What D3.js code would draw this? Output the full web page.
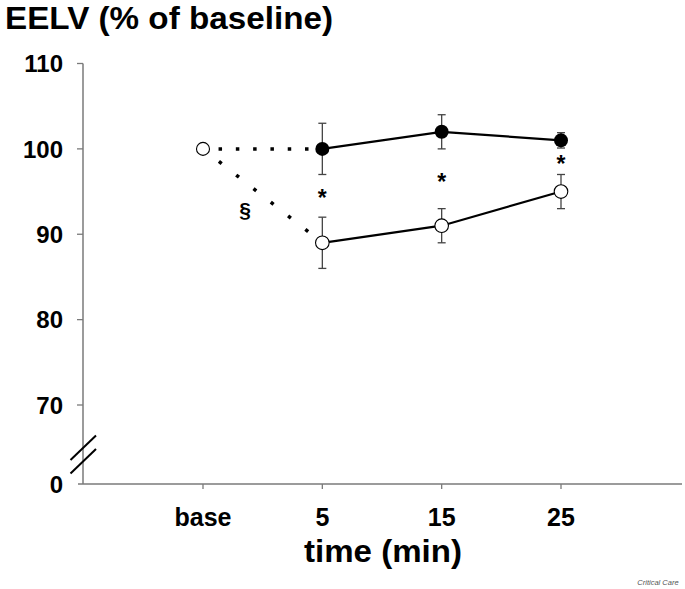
<!DOCTYPE html>
<html><head><meta charset="utf-8">
<script src="https://cdn.jsdelivr.net/npm/d3@7"></script>
<style>body{margin:0;background:#fff}svg{display:block}text{font-family:"Liberation Sans",Arial,Helvetica,sans-serif}</style>
</head><body><div id="chart"></div>
<script>
const categories = ["base", "5", "15", "25"];
const yTicks = [70, 80, 90, 100, 110];
// filled circles (starts at 5 min, linked to base by dotted line)
const filledCats = ["5", "15", "25"];
const filledMean = [100, 102, 101];
const filledErr = [3, 2, 0.9];
// open circles
const openCats = ["5", "15", "25"];
const openMean = [89, 91, 95];
const openErr = [3, 2, 2];
const baseValue = 100;
// significance markers
const starCats = ["5", "15", "25"];
const starVals = [95.2, 97.1, 99.2];

const W = 685, H = 589;
const svg = d3.select("#chart").append("svg").attr("width", W).attr("height", H);

const xPos = d3.scaleLinear().domain([0, 3]).range([203, 561]);
const X = c => xPos(categories.indexOf(c));
const y = d3.scaleLinear().domain([70, 110]).range([405, 63.5]);
const yZero = 484;
const axisColor = "#7a7a7a";

// axes lines
svg.append("line").attr("x1", 83).attr("x2", 83).attr("y1", y(110)).attr("y2", yZero)
  .attr("stroke", axisColor).attr("stroke-width", 1.5);
svg.append("line").attr("x1", 78).attr("x2", 682).attr("y1", yZero).attr("y2", yZero)
  .attr("stroke", axisColor).attr("stroke-width", 1.5);

// y ticks
const yt = svg.append("g");
yTicks.forEach(v => {
  yt.append("line").attr("x1", 77).attr("x2", 83).attr("y1", y(v)).attr("y2", y(v)).attr("stroke", axisColor).attr("stroke-width", 1.3);
  yt.append("text").attr("x", 63).attr("y", y(v)).attr("dy", "0.36em").attr("text-anchor", "end")
    .attr("font-size", 24).attr("font-weight", "bold").text(v);
});
yt.append("text").attr("x", 63).attr("y", yZero).attr("dy", "0.36em").attr("text-anchor", "end")
  .attr("font-size", 24).attr("font-weight", "bold").text("0");

// axis break
[[460, 435.5], [473.5, 449]].forEach(([a, b]) => {
  svg.append("line").attr("x1", 70.5).attr("y1", a).attr("x2", 96).attr("y2", b)
    .attr("stroke", "#000").attr("stroke-width", 2);
});

// x ticks
categories.forEach(c => {
  svg.append("line").attr("x1", X(c)).attr("x2", X(c)).attr("y1", yZero).attr("y2", yZero + 5)
    .attr("stroke", axisColor).attr("stroke-width", 1.3);
  svg.append("text").attr("x", X(c)).attr("y", 526).attr("text-anchor", "middle")
    .attr("font-size", 25).attr("font-weight", "bold").text(c);
});

// titles
svg.append("text").attr("x", 5).attr("y", 29).attr("font-size", 31).attr("font-weight", "bold")
  .attr("textLength", 328).attr("lengthAdjust", "spacingAndGlyphs").text("EELV (% of baseline)");
svg.append("text").attr("x", 383).attr("y", 562).attr("text-anchor", "middle").attr("font-size", 32)
  .attr("font-weight", "bold").attr("textLength", 158).attr("lengthAdjust", "spacingAndGlyphs").text("time (min)");
svg.append("text").attr("x", 658).attr("y", 585).attr("text-anchor", "middle").attr("font-size", 7.5)
  .attr("font-style", "italic").attr("fill", "#555").text("Critical Care");

// dotted lines from base
function dotted(x1, y1, x2, y2) {
  const L = Math.hypot(x2 - x1, y2 - y1);
  const P = L / 6.9;
  const d = 3.5;
  svg.append("line").attr("x1", x1).attr("y1", y1).attr("x2", x2).attr("y2", y2)
    .attr("stroke", "#000").attr("stroke-width", 3.5)
    .attr("stroke-dasharray", `${d},${P - d}`).attr("stroke-dashoffset", d / 2);
}
dotted(X("base"), y(baseValue), X(filledCats[0]), y(filledMean[0]));
dotted(X("base"), y(baseValue), X(openCats[0]), y(openMean[0]));

// solid lines
const line = d3.line().x(d => X(d[0])).y(d => y(d[1]));
svg.append("path").attr("d", line(filledCats.map((c, i) => [c, filledMean[i]])))
  .attr("fill", "none").attr("stroke", "#000").attr("stroke-width", 2.2);
svg.append("path").attr("d", line(openCats.map((c, i) => [c, openMean[i]])))
  .attr("fill", "none").attr("stroke", "#000").attr("stroke-width", 2.2);

// error bars
function errBars(cats, means, errs) {
  cats.forEach((c, i) => {
    const cx = X(c), t = y(means[i] + errs[i]), b = y(means[i] - errs[i]);
    svg.append("line").attr("x1", cx).attr("x2", cx).attr("y1", t).attr("y2", b).attr("stroke", "#444").attr("stroke-width", 1.3);
    [t, b].forEach(v => svg.append("line").attr("x1", cx - 4).attr("x2", cx + 4).attr("y1", v).attr("y2", v).attr("stroke", "#444").attr("stroke-width", 1.3));
  });
}
errBars(filledCats, filledMean, filledErr);
errBars(openCats, openMean, openErr);

// markers
svg.append("circle").attr("cx", X("base")).attr("cy", y(baseValue)).attr("r", 6.5)
  .attr("fill", "#fff").attr("stroke", "#000").attr("stroke-width", 1.1);
openCats.forEach((c, i) => svg.append("circle").attr("cx", X(c)).attr("cy", y(openMean[i])).attr("r", 6.8)
  .attr("fill", "#fff").attr("stroke", "#000").attr("stroke-width", 1.1));
filledCats.forEach((c, i) => svg.append("circle").attr("cx", X(c)).attr("cy", y(filledMean[i])).attr("r", 7)
  .attr("fill", "#000"));

// stars
starCats.forEach((c, i) => svg.append("text").attr("x", X(c)).attr("y", y(starVals[i])).attr("dy", "0.72em")
  .attr("text-anchor", "middle").attr("font-size", 23).attr("font-weight", "bold").text("*"));
svg.append("text").attr("x", 245).attr("y", 217).attr("text-anchor", "middle").attr("font-size", 21)
  .attr("font-weight", "bold").text("§");
</script></body></html>
